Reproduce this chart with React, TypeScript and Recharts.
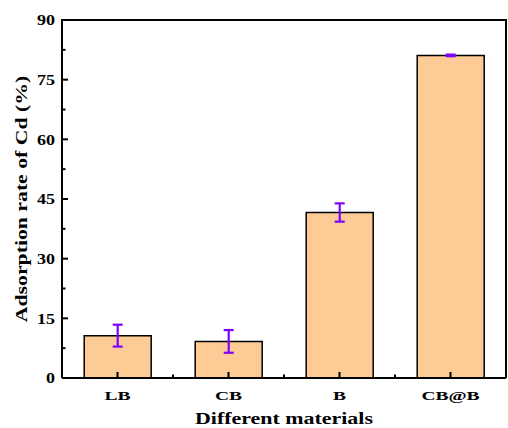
import React from 'react';
import { BarChart, Bar, XAxis, YAxis, ErrorBar } from 'recharts';

const categories = ['LB', 'CB', 'B', 'CB@B'];
const adsorption = [10.65, 9.2, 41.6, 81.1];
const errors = [2.75, 2.85, 2.3, 0.2];
const yTicks = [0, 7.5, 15, 22.5, 30, 37.5, 45, 52.5, 60, 67.5, 75, 82.5, 90];
const yMajor = [0, 15, 30, 45, 60, 75, 90];
const yMax = 90;

const data = categories.map((name, i) => ({ name, value: adsorption[i], err: errors[i] }));

const W = 508;
const H = 428;
const M = { top: 20, right: 2, left: 0, bottom: 0 };
const YW = 62;
const XH = 50;
const plotW = W - M.left - M.right - YW;
const plotH = H - M.top - M.bottom - XH;
const FONT = 'Liberation Serif, Times New Roman, serif';
const INK = 'black';

const YTick = (props: any) => {
  const x = Number(props.x);
  const y = Number(props.y);
  const v = Number(props.payload.value);
  const major = yMajor.indexOf(v) >= 0;
  const isTop = v === yMax;
  return (
    <g>
      <rect x={x} y={y - 1} width={major ? 6 : 3.5} height={2} fill={INK} />
      {isTop ? (
        <g>
          <rect x={x - 1} y={y - 1} width={plotW + 2} height={2} fill={INK} />
          <rect x={x + plotW - 1} y={y - 1} width={2} height={plotH + 1} fill={INK} />
        </g>
      ) : null}
      {major ? (
        <text
          transform={`translate(${x - 7},${y}) scale(1.2,1)`}
          textAnchor="end"
          dy="0.36em"
          fontFamily={FONT}
          fontWeight="bold"
          fontSize={15}
          fill="#000"
        >
          {v}
        </text>
      ) : null}
    </g>
  );
};

const XTick = (props: any) => {
  const x = Number(props.x);
  const y = Number(props.y);
  const index = props.index;
  const half = Number(props.payload.offset) || plotW / categories.length / 2;
  return (
    <g>
      <rect x={x - 1} y={y - 6} width={2} height={6} fill={INK} />
      {index < categories.length - 1 ? (
        <rect x={x + half - 1} y={y - 3.5} width={2} height={3.5} fill={INK} />
      ) : null}
      <text
        transform={`translate(${x},${y + 22}) scale(1.5,1)`}
        textAnchor="middle"
        fontFamily={FONT}
        fontWeight="bold"
        fontSize={13}
        fill="#000"
      >
        {props.payload.value}
      </text>
    </g>
  );
};

const XTitle = (props: any) => {
  const vb = props.viewBox || {};
  const cx = vb.x + vb.width / 2;
  return (
    <text
      transform={`translate(${cx},${vb.y + 46}) scale(1.29,1)`}
      textAnchor="middle"
      fontFamily={FONT}
      fontWeight="bold"
      fontSize={17}
      fill="#000"
    >
      Different materials
    </text>
  );
};

const YTitle = (props: any) => {
  const vb = props.viewBox || {};
  const cy = vb.y + vb.height / 2;
  return (
    <text
      transform={`translate(${vb.x + 27},${cy}) rotate(-90) scale(1.28,1)`}
      textAnchor="middle"
      fontFamily={FONT}
      fontWeight="bold"
      fontSize={17}
      fill="#000"
    >
      Adsorption rate of Cd (%)
    </text>
  );
};

export default function App() {
  return (
    <div style={{ position: 'absolute', left: 0, top: 0, width: W, height: H, background: '#fff' }}>
      <BarChart width={W} height={H} data={data} margin={M} barCategoryGap="20%">
        <XAxis
          dataKey="name"
          height={XH}
          axisLine={{ stroke: '#000', strokeWidth: 2 }}
          tickLine={false}
          tickSize={0}
          tickMargin={0}
          tick={<XTick />}
          interval={0}
          label={<XTitle />}
        />
        <YAxis
          type="number"
          domain={[0, yMax]}
          ticks={yTicks}
          interval={0}
          width={YW}
          axisLine={{ stroke: '#000', strokeWidth: 2 }}
          tickLine={false}
          tickSize={0}
          tickMargin={0}
          tick={<YTick />}
          label={<YTitle />}
        />
        <Bar dataKey="value" fill="#FDCB95" stroke="#000" strokeWidth={1.5} isAnimationActive={false}>
          <ErrorBar dataKey="err" width={5} stroke="#8000FF" strokeWidth={2.2} direction="y" />
        </Bar>
      </BarChart>
    </div>
  );
}
